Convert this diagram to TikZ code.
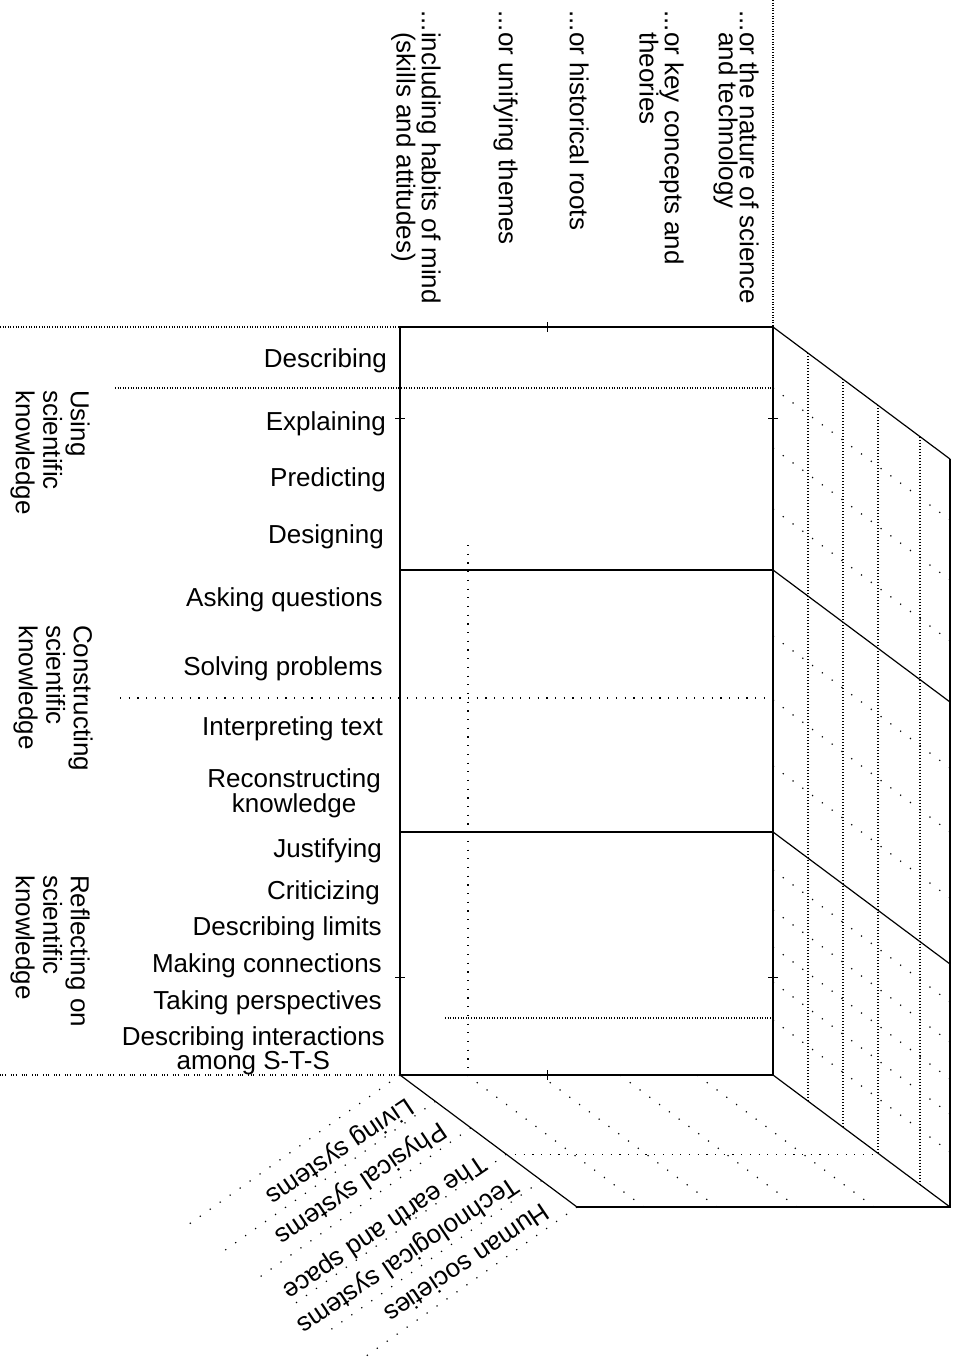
\documentclass[tikz,border=0pt]{standalone}
\usepackage{fontspec}
\setmainfont{Liberation Sans}
\usetikzlibrary{calc}
\begin{document}
\begin{tikzpicture}[x=1pt,y=-1pt,
  lab/.style={font=\fontsize{26}{22}\selectfont, inner sep=0pt},
  catlab/.style={font=\fontsize{26}{27.5}\selectfont, inner sep=0pt, rotate=-90, align=left, anchor=north west},
  collab/.style={font=\fontsize{26}{21}\selectfont, inner sep=0pt, rotate=-90, align=left, anchor=north west},
  domlab/.style={font=\fontsize{26}{22}\selectfont, inner sep=0pt, rotate=214, anchor=west},
  frontline/.style={line width=1.8pt},
  edgeline/.style={line width=1.2pt},
  finedot/.style={line width=1.1pt, dash pattern=on 1pt off 1.6pt},
  sparsedot/.style={line width=1.2pt, dash pattern=on 1.2pt off 7.5pt},
  griddot/.style={line width=1.2pt, dash pattern=on 1pt off 2pt},
  ghostdot/.style={line width=1.2pt, dash pattern=on 1.2pt off 11pt},
  groupdot/.style={line width=1.1pt, dash pattern=on 1pt off 1.4pt on 1pt off 1.4pt on 1pt off 5pt},
  tickline/.style={line width=1pt},
]
\useasboundingbox (0,0) rectangle (958,1370);
\fill[white] (0,0) rectangle (958,1370);

% cube corners
\coordinate (FTL) at (400,327);
\coordinate (FTR) at (773,327);
\coordinate (FBL) at (400,1075);
\coordinate (FBR) at (773,1075);
\coordinate (BTR) at (950,459);
\coordinate (BBR) at (950,1207);
\coordinate (BBL) at (577,1207);
\coordinate (R1L) at (400,570);
\coordinate (R1R) at (773,570);
\coordinate (R2L) at (400,832);
\coordinate (R2R) at (773,832);

% outer dotted guides
\draw[finedot] (0,327) -- (FTL);
\draw[groupdot] (0,1075) -- (FBL);
\draw[finedot] (773,0) -- (FTR);
\draw[finedot] (115,388) -- (773,388);
\draw[sparsedot] (120,698) -- (773,698);
\draw[finedot] (445,1018) -- (773,1018);
\draw[sparsedot] (468,545) -- (468,1075);

% right face grid
\foreach \t in {0.1977,0.3955,0.5932,0.8305}
  \draw[griddot] ($(FTR)!\t!(BTR)$) -- ($(FBR)!\t!(BBR)$);
\foreach \y in {388,448,509,636,700,766,870,910,947,982,1020}
  \draw[ghostdot] (773,\y) -- ++(177,132);

% bottom face grid
\foreach \x in {467,540,620,697}
  \draw[ghostdot] (\x,1075) -- ++(177,132);
\draw[sparsedot] ($(FBL)!0.6!(BBL)$) -- ($(FBR)!0.6!(BBR)$);

% leaders for domains
\foreach \k in {0,...,5}
  \draw[ghostdot] ($(FBL)!\k/5!(BBL)$) -- ++(-215,152);

% solid cube
\draw[frontline] (FTL) rectangle (FBR);
\draw[frontline] (R1L) -- (R1R);
\draw[frontline] (R2L) -- (R2R);
\draw[edgeline] (FTR) -- (BTR);
\draw[edgeline] (R1R) -- ++(177,132);
\draw[edgeline] (R2R) -- ++(177,132);
\draw[edgeline] (FBR) -- (BBR);
\draw[edgeline] (FBL) -- (BBL);
\draw[frontline] (BTR) -- (BBR) -- (BBL);

% small ticks
\draw[tickline] (547,322) -- (547,332);
\draw[tickline] (547,1070) -- (547,1080);
\draw[tickline] (395,418) -- (405,418);
\draw[tickline] (768,418) -- (778,418);
\draw[tickline] (395,977) -- (405,977);
\draw[tickline] (768,977) -- (778,977);

% ability labels
\node[lab, anchor=base east] (d1) at (387,367) {Describing};
\node[lab, anchor=base east] (d2) at (386,430) {Explaining};
\node[lab, anchor=base east] (d3) at (386,486) {Predicting};
\node[lab, anchor=base east] (d4) at (384,543) {Designing};
\node[lab, anchor=base east] (d5) at (383,606) {Asking questions};
\node[lab, anchor=base east] (d6) at (383,675) {Solving problems};
\node[lab, anchor=base east] (d7) at (383,735) {Interpreting text};
\node[lab, anchor=north east, align=center] (d8) at (381,768) {Reconstructing\\knowledge};
\node[lab, anchor=base east] (d9) at (382,857) {Justifying};
\node[lab, anchor=base east] (d10) at (380,899) {Criticizing};
\node[lab, anchor=base east] (d11) at (382,935) {Describing limits};
\node[lab, anchor=base east] (d12) at (382,972) {Making connections};
\node[lab, anchor=base east] (d13) at (382,1009) {Taking perspectives};
\node[lab, anchor=north east, align=center] (d14) at (385,1026) {Describing interactions\\among S-T-S};

% category labels
\node[catlab] (c1) at (90,390) {Using\\scientific\\knowledge};
\node[catlab] (c2) at (93,625) {Constructing\\scientific\\knowledge};
\node[catlab] (c3) at (90,875) {Reflecting on\\scientific\\knowledge};

% column labels
\node[collab] (k1) at (759,32) {\llap{...}or the nature of science\\and technology};
\node[collab] (k2) at (684,32) {\llap{...}or key concepts and\\theories};
\node[collab] (k3) at (589,32) {\llap{...}or historical roots};
\node[collab] (k4) at (518,32) {\llap{...}or unifying themes};
\node[collab] (k5) at (441,32) {\llap{...}including habits of mind\\(skills and attitudes)};

% domain labels
\node[domlab] (s1) at (410,1103) {Living systems};
\node[domlab] (s2) at (443,1127) {Physical systems};
\node[domlab] (s3) at (483,1160) {The earth and space};
\node[domlab] (s4) at (515,1182) {Technological systems};
\node[domlab] (s5) at (547,1210) {Human societies};
\end{tikzpicture}
\end{document}
